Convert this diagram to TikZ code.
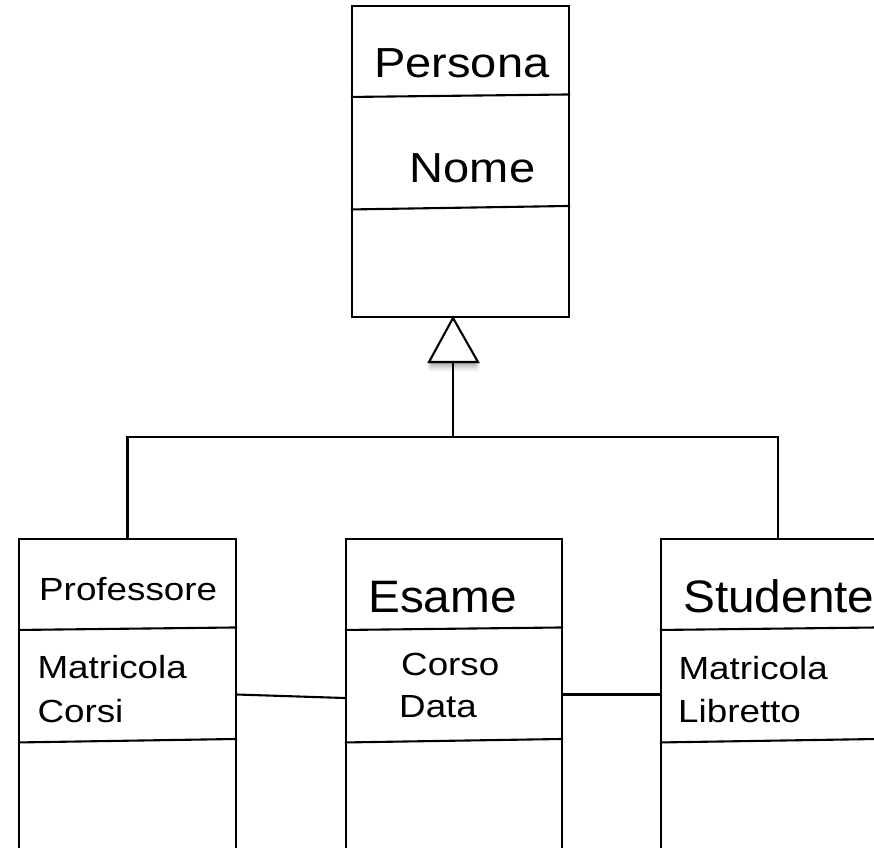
\documentclass[tikz,border=0pt]{standalone}
\usepackage{fontspec}
\setmainfont{Liberation Sans}
\newfontfamily\headfont{Liberation Sans}[FakeStretch=1.12]
\newfontfamily\subheadfont{Liberation Sans}[FakeStretch=1.05]
\newfontfamily\attrfont{Liberation Sans}[FakeStretch=1.15]
\begin{document}
\begin{tikzpicture}[x=1pt,y=-1pt,
  classbox/.style={draw, line width=2.1pt, minimum width=217pt, minimum height=311pt, inner sep=0pt},
  divider/.style={line width=2.1pt},
  link/.style={line width=2.1pt},
  title/.style={anchor=base west, inner sep=0pt, font=\headfont\fontsize{42}{48}\selectfont},
  subtitle/.style={anchor=base west, inner sep=0pt, font=\subheadfont\fontsize{45.5}{52}\selectfont},
  attr/.style={anchor=base west, inner sep=0pt, font=\attrfont\fontsize{32}{40}\selectfont},
]
\useasboundingbox (0,0) rectangle (874,847);
\clip (0,0) rectangle (874,847);

% two compartment rules inside a class box
\newcommand\umlrules[1]{%
  \draw[divider] ([yshift=-92pt]#1.north west) -- ([yshift=-89.5pt]#1.north east);
  \draw[divider] ([yshift=-204.5pt]#1.north west) -- ([yshift=-201pt]#1.north east);}

% class boxes
\node[classbox] (persona) at (460.5,161.5) {};
\node[classbox] (prof) at (127.5,694.5) {};
\node[classbox, minimum width=216pt] (esame) at (454,694.5) {};
\node[classbox] (stud) at (769.5,694.5) {};
\umlrules{persona}
\umlrules{prof}
\umlrules{esame}
\umlrules{stud}

% texts
\node[title] (tPersona) at (374,77.7) {Persona};
\node[title] (tNome) at (409.5,182.7) {Nome};
\node[attr] (tProf) at (39,600) {Professore};
\node[attr] (tProfA) at (37.3,678.3) {Matricola};
\node[attr] (tProfB) at (37.3,722.3) {Corsi};
\node[subtitle] (tEsame) at (368,612.7) {Esame};
\node[attr] (tEsameA) at (401,675) {Corso};
\node[attr] (tEsameB) at (399,717) {Data};
\node[subtitle] (tStud) at (683,612.5) {Studente};
\node[attr] (tStudA) at (678.3,679) {Matricola};
\node[attr] (tStudB) at (678,722) {Libretto};

% generalization: hollow triangle under Persona
\coordinate (apex) at (453,318);
\coordinate (tl) at (429,362);
\coordinate (tr) at (478,362);
\coordinate (genbase) at (453,362);
\coordinate (fork) at (453,437);
\coordinate (studtop) at ([xshift=8.5pt]stud.north);
\foreach \d/\o in {2/0.14,4/0.11,6/0.08,8/0.05,10/0.03}
  \fill[black, opacity=\o] ([yshift=-\d pt]apex) -- ([yshift=-\d pt,xshift=-1pt]tl) -- ([yshift=-\d pt,xshift=1pt]tr) -- cycle;
\filldraw[fill=white, line width=2.1pt, line join=miter] (apex) -- (tl) -- (tr) -- cycle;
\draw[link] (genbase) -- (fork);
\draw[link] (prof.north) |- (fork);
\draw[link] (studtop) |- (fork);

% associations
\draw[link] (prof.east) -- ([yshift=-3.5pt]esame.west);
\draw[link] (esame.east) -- (stud.west);
\end{tikzpicture}
\end{document}
